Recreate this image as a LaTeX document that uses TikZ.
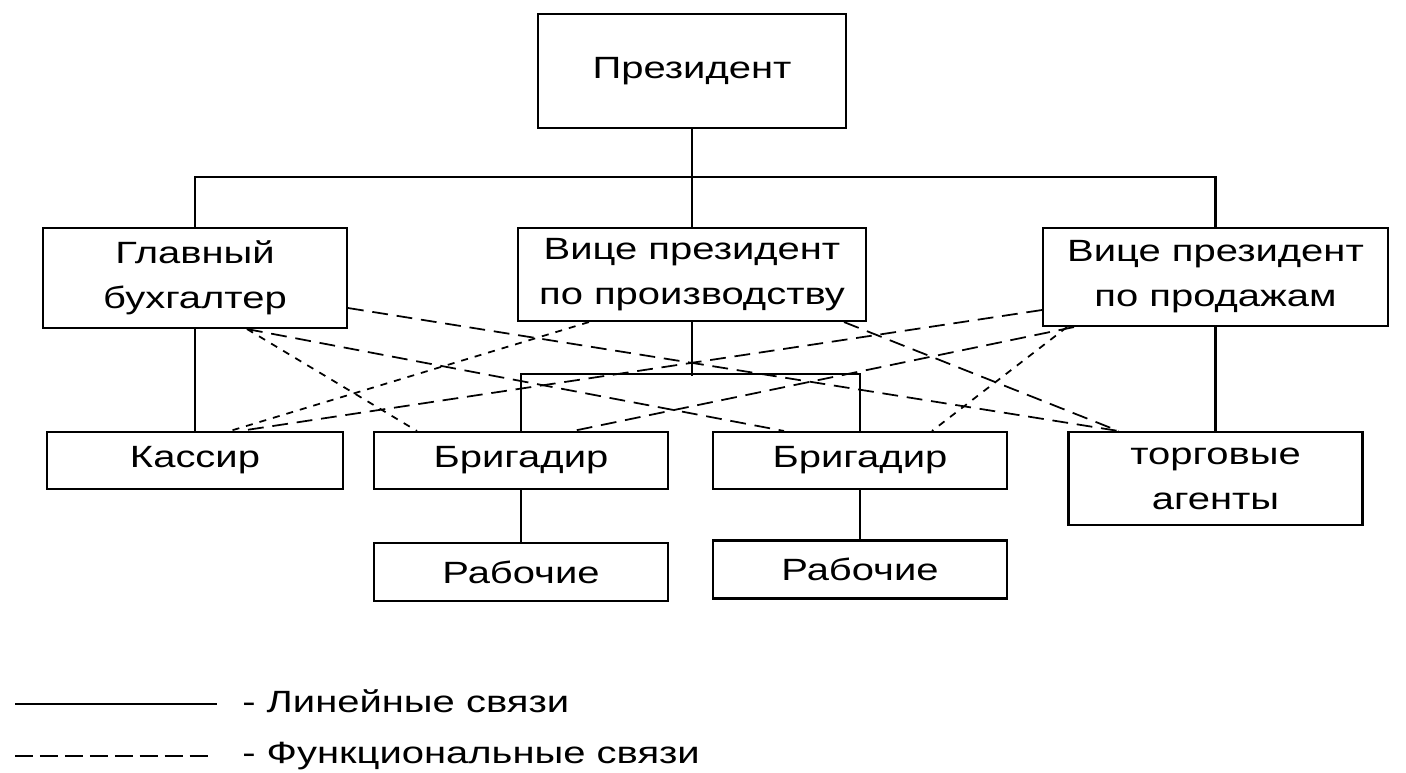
\documentclass[tikz,border=0pt]{standalone}
\usepackage{fontspec}
\setmainfont{Liberation Sans}[FakeStretch=1.3]
\usetikzlibrary{calc}
\tikzset{
    block/.style = {draw, rectangle, line width=1.2pt, inner sep=0pt,
        align=center, font=\fontsize{17.5}{25.6}\selectfont},
    lin/.style = {draw, line width=1.2pt},
    func/.style = {draw, line width=1pt, dash pattern=on 9pt off 5pt},
    funcshort/.style = {draw, line width=1pt, dash pattern=on 4pt off 4pt},
    legtext/.style = {anchor=base west, inner sep=0pt, font=\fontsize{17.5}{21}\selectfont}
}

\begin{document}
\begin{tikzpicture}[x=0.02cm, y=-0.02cm]
        \useasboundingbox (0,0) rectangle (1406,772);
        % top level
        \node [block, minimum width=6.16cm, minimum height=2.28cm] (pres) at (692,71) {Президент};
        \node [block, minimum width=6.08cm, minimum height=2cm] (glav) at (195,278) {Главный\\бухгалтер};
        \node [block, minimum width=6.96cm, minimum height=1.86cm] (proizv) at (692,274.5) {Вице президент\\по производству};
        \node [block, minimum width=6.9cm, minimum height=1.96cm] (prod) at (1215.5,277) {Вице президент\\по продажам};
        \draw [lin] (pres) -- (proizv);
        \draw [lin] (glav.north) -- ++(0,-50) -| (prod.north);
        % lower level
        \node [block, minimum width=5.92cm, minimum height=1.14cm] (kass) at (195,460.5) {Кассир};
        \node [block, minimum width=5.88cm, minimum height=1.86cm] (agent) at (1215.5,478.5) {торговые\\агенты};
        \draw [lin] (glav) -- (kass);
        \draw [lin] (prod) -- (agent);
        \foreach \a/\cx/\cy in {1/521/572,2/860/569.5}{
            \node [block, minimum width=5.88cm, minimum height=1.14cm] (brig\a) at (\cx,460.5) {Бригадир};
            \node [block, minimum width=5.88cm, minimum height=1.16cm] (rab\a) at (\cx,\cy) {Рабочие};
            \draw [lin] (brig\a) -- (rab\a);
        }
        \draw [lin] (proizv.south) -- ++(0,54);
        \draw [lin] (brig1.north) -- ++(0,-57) -| (brig2.north);
        % functional links
        \draw [func] ($(glav.east)+(0,30)$) -- ($(agent.north west)+(51,0)$);
        \draw [funcshort] ($(glav.south)+(52,0)$) -- ($(brig1.north west)+(44,0)$);
        \draw [func] ($(glav.south)+(52,0)$) -- ($(brig2.north west)+(72,0)$);
        \draw [funcshort] ($(proizv.south west)+(72,0)$) -- ($(kass.north)+(35,0)$);
        \draw [func] ($(proizv.south east)+(-23,0)$) -- ($(agent.north west)+(51,0)$);
        \draw [func] ($(prod.west)+(0,33)$) -- ($(kass.north)+(45,0)$);
        \draw [func] ($(prod.south west)+(32,0)$) -- ($(brig1.north)+(52,0)$);
        \draw [funcshort] ($(prod.south west)+(25,0)$) -- ($(brig2.north)+(72,0)$);
        % legend
        \coordinate (lin1) at (15,704);
        \coordinate (lin2) at (217,704);
        \draw [lin] (lin1) -- (lin2);
        \node [legtext] (linlabel) at (242,712) {- Линейные связи};
        \coordinate (fun1) at (15,756);
        \coordinate (fun2) at (208,756);
        \draw [line width=1.2pt, dash pattern=on 10.2pt off 4pt] (fun1) -- (fun2);
        \node [legtext] (funlabel) at (242,763) {- Функциональные связи};
\end{tikzpicture}
\end{document}
